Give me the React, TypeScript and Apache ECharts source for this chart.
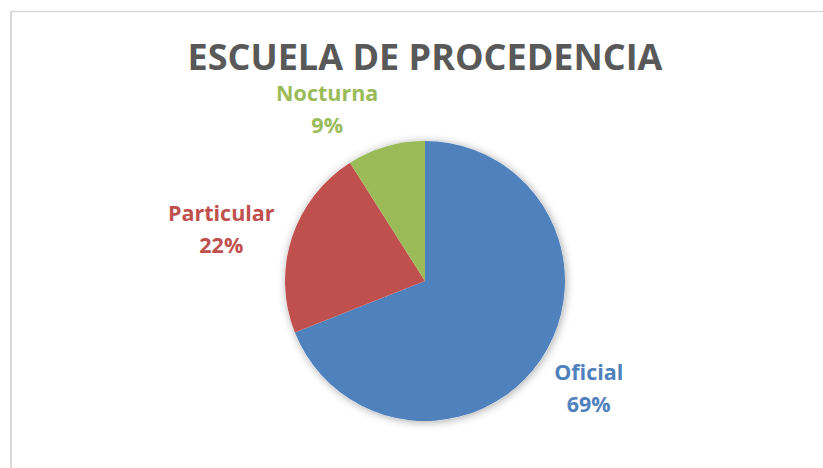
import React, { useEffect, useRef } from "react";
import * as echarts from "echarts";

const titleText = "ESCUELA DE PROCEDENCIA";
const categories = ["Oficial", "Particular", "Nocturna"];
const values = [69, 22, 9];
const colors = ["#4F81BD", "#C0504D", "#9BBB59"];

const CX = 425;
const CY = 281;
const R = 140;
const labelDist = [198, 210, 200];
const labelShift = [[0, -5], [-4, 12], [-42, 20]];

const total = values.reduce((a, b) => a + b, 0);
const midAngles: number[] = [];
{
  let acc = 0;
  for (const v of values) {
    midAngles.push(((acc + v / 2) / total) * Math.PI * 2);
    acc += v;
  }
}

export default function App() {
  const ref = useRef<HTMLDivElement>(null);
  useEffect(() => {
    document.body.style.margin = "0";
    const chart = echarts.init(ref.current!, null, { renderer: "svg" });
    const font = "'Open Sans', 'Noto Sans', sans-serif";
    chart.setOption({
      animation: false,
      backgroundColor: "#ffffff",
      graphic: [
        {
          type: "line",
          shape: { x1: 11, y1: 11, x2: 11, y2: 468 },
          style: { stroke: "#d9d9d9", lineWidth: 2 },
          silent: true,
        },
        {
          type: "line",
          shape: { x1: 10, y1: 11.5, x2: 823, y2: 11.5 },
          style: { stroke: "#d9d9d9", lineWidth: 1.5 },
          silent: true,
        },
        {
          type: "text",
          x: CX,
          y: 56,
          style: {
            text: titleText,
            fill: "#595959",
            font: `bold 36px ${font}`,
            lineHeight: 30,
            textAlign: "center",
            textVerticalAlign: "middle",
          },
        },
      ],
      series: [
        {
          type: "pie",
          silent: true,
          center: [CX, CY],
          radius: R,
          z: 1,
          label: { show: false },
          labelLine: { show: false },
          itemStyle: {
            color: "#ffffff",
            shadowBlur: 8,
            shadowColor: "rgba(0,0,0,0.35)",
            shadowOffsetX: 1,
            shadowOffsetY: 1,
          },
          data: [{ value: total, name: "" }],
        },
        {
          type: "pie",
          z: 2,
          center: [CX, CY],
          radius: R,
          startAngle: 90,
          clockwise: true,
          percentPrecision: 0,
          itemStyle: { borderWidth: 0 },
          labelLine: { show: false },
          label: {
            show: true,
            position: "outside",
            formatter: "{b}\n{d}%",
            fontFamily: font,
            fontWeight: "bold",
            fontSize: 21.5,
            lineHeight: 32,
            align: "center",
          },
          labelLayout: (p: any) => {
            const i = p.dataIndex;
            const a = midAngles[i];
            return {
              x: CX + labelDist[i] * Math.sin(a) + labelShift[i][0],
              y: CY - labelDist[i] * Math.cos(a) + labelShift[i][1],
              align: "center",
              verticalAlign: "middle",
            };
          },
          data: categories.map((c, i) => ({
            name: c,
            value: values[i],
            itemStyle: { color: colors[i] },
            label: { color: colors[i] },
          })),
        },
      ],
    });
    return () => chart.dispose();
  }, []);
  return <div ref={ref} style={{ width: 823, height: 468 }} />;
}
